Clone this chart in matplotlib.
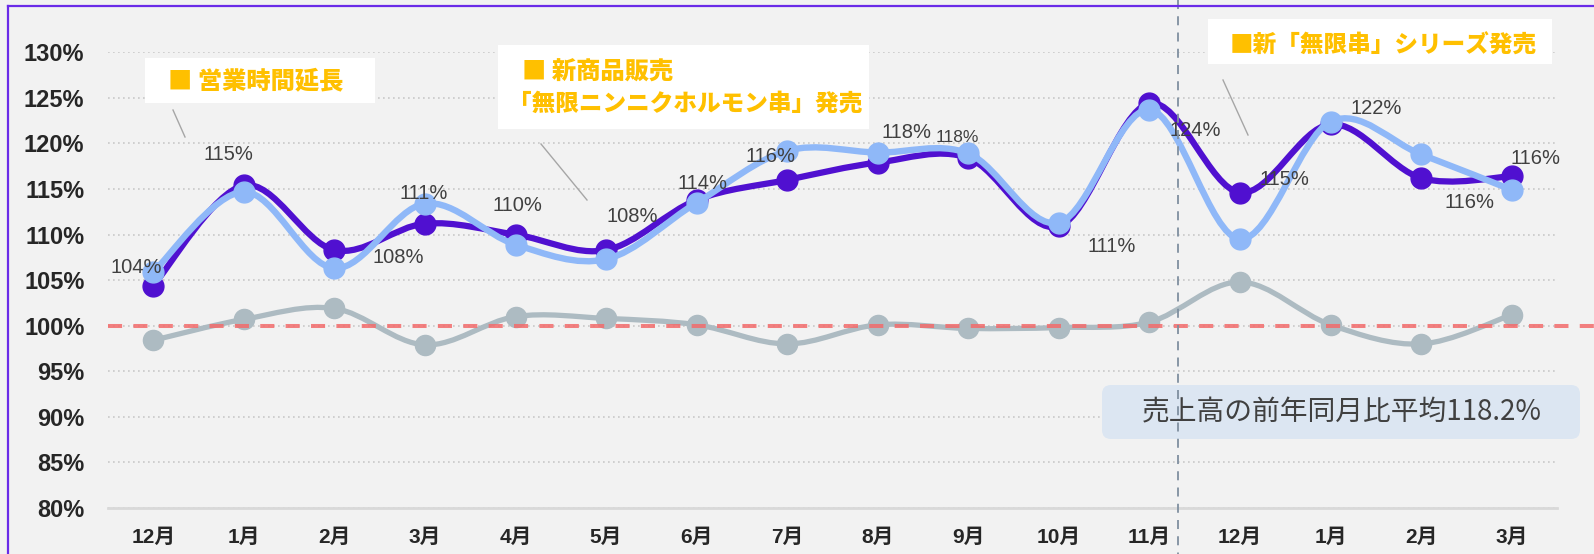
import numpy as np
import matplotlib
matplotlib.use("Agg")
import matplotlib.pyplot as plt
from matplotlib.path import Path
from matplotlib.patches import PathPatch, Rectangle, FancyBboxPatch
from matplotlib.lines import Line2D
from matplotlib.transforms import IdentityTransform

plt.rcParams['font.family'] = ['Liberation Sans', 'Noto Sans CJK JP', 'DejaVu Sans']

# data
months = ["12月", "1月", "2月", "3月", "4月", "5月", "6月", "7月",
          "8月", "9月", "10月", "11月", "12月", "1月", "2月", "3月"]
sales_yoy = [104.4, 115.4, 108.3, 111.2, 110.0, 108.3, 113.8, 116.0,
             117.9, 118.4, 110.9, 124.4, 114.6, 122.1, 116.2, 116.4]
customers_yoy = [105.9, 114.7, 106.3, 113.4, 108.9, 107.3, 113.5, 119.2,
                 119.0, 118.9, 111.3, 123.7, 109.5, 122.4, 118.8, 114.9]
unit_price_yoy = [98.4, 100.7, 101.9, 97.9, 101.0, 100.8, 100.1, 98.0,
                  100.1, 99.7, 99.8, 100.4, 104.8, 100.1, 98.0, 101.2]
baseline = 100
avg_text = "売上高の前年同月比平均118.2%"
events = ["■ 営業時間延長", "■ 新商品販売", "「無限ニンニクホルモン串」発売",
          "■新「無限串」シリーズ発売"]

W, H = 1594, 554
PURPLE = "#5010d0"
LIGHT = "#8fb8f8"
GRAY = "#adbbc2"
GOLD = "#ffc000"

fig = plt.figure(figsize=(W / 100, H / 100), dpi=100, facecolor="#f2f2f2")
ax = fig.add_axes([108 / W, 1 - 508 / H, (1557 - 108) / W, (508 - 52.3) / H])
ax.set_facecolor("#f2f2f2")

x = np.arange(len(months))


def smooth_path(xs, ys):
    pts = np.column_stack([xs, ys]).astype(float)
    n = len(pts)
    verts = [pts[0]]
    codes = [Path.MOVETO]
    for i in range(n - 1):
        p0 = pts[i - 1] if i > 0 else pts[i]
        p1, p2 = pts[i], pts[i + 1]
        p3 = pts[i + 2] if i + 2 < n else pts[i + 1]
        verts += [p1 + (p2 - p0) / 6, p2 - (p3 - p1) / 6, p2]
        codes += [Path.CURVE4] * 3
    return Path(verts, codes)


def draw_series(vals, color, lw, ms, z):
    ax.add_patch(PathPatch(smooth_path(x, vals), fill=False, edgecolor=color,
                           lw=lw, capstyle="round", joinstyle="round", zorder=z))
    ax.plot(x, vals, "o", color=color, ms=ms, ls="none", zorder=z)


draw_series(unit_price_yoy, GRAY, 3.8, 14.5, 3)
ax.axhline(baseline, color="#f26b6b", alpha=0.85, lw=2.9, dashes=(3.5, 2.8),
           zorder=4, clip_on=False, xmax=(W - 108) / (1557 - 108))
draw_series(sales_yoy, PURPLE, 4.5, 15, 5)
draw_series(customers_yoy, LIGHT, 4.6, 15, 6)

# data labels (offsets in points)
label_offsets = [(-12, 13), (-11, 22), (46, -5), (-1, 22), (1.5, 21), (19, 24),
                 (4, 11.5), (-12, 16.5), (21, 21.6), (-8, 15), (38, -14.4),
                 (33, -19.4), (32, 9.4), (33, 11.5), (35, -17.3), (17, 13)]
for i, v in enumerate(sales_yoy):
    dx, dy = label_offsets[i]
    ax.annotate(f"{v:.0f}%", (x[i], v), xytext=(dx, dy), textcoords="offset points",
                ha="center", va="center", fontsize=12.5 if i == 9 else 14.5,
                color="#404040", zorder=8)

ax.set_xlim(-0.5, len(months) - 0.5)
ax.set_ylim(80, 130)
ax.set_yticks(np.arange(80, 131, 5))
ax.set_yticklabels([f"{t}%" for t in range(80, 131, 5)])
ax.set_xticks(x)
ax.set_xticklabels(months)
ax.tick_params(axis="y", length=0, pad=17, labelsize=17, labelcolor="#262626")
ax.tick_params(axis="x", length=0, pad=14, labelsize=15, labelcolor="#262626")
for lab in ax.get_xticklabels() + ax.get_yticklabels():
    lab.set_fontweight("bold")
ax.grid(axis="y", color="#c8c8c8", lw=1.2, linestyle=(0, (1, 2)))
ax.set_axisbelow(True)
for s in ["top", "right", "left"]:
    ax.spines[s].set_visible(False)
ax.spines["bottom"].set_color("#d9d9d9")
ax.spines["bottom"].set_linewidth(2)

# decorations in pixel coords (y from top)
idt = IdentityTransform()


def add_rect(x0, y0, x1, y1, color, z=9):
    fig.add_artist(Rectangle((x0, H - y1), x1 - x0, y1 - y0, transform=idt,
                             facecolor=color, edgecolor="none", zorder=z))


def add_line(x0, y0, x1, y1, **kw):
    fig.add_artist(Line2D([x0, x1], [H - y0, H - y1], transform=idt, **kw))


def add_text(px, py, s, **kw):
    fig.text(px / W, 1 - py / H, s, **kw)


gold = dict(color=GOLD, fontsize=17.5, fontweight="heavy", va="center", ha="left",
            family=["Noto Sans CJK JP"], zorder=10)
add_rect(145, 58, 375, 103, "white")
add_text(168, 81, events[0], **gold)
add_line(173, 110, 185, 137, color="#a6a6a6", lw=1)

add_rect(498, 45, 869, 129, "white")
add_text(522, 72, events[1], **gold)
add_text(508, 103, events[2], **dict(gold, fontsize=17))
add_line(541, 144, 587, 200, color="#a6a6a6", lw=1)

add_rect(1208, 19, 1552, 64, "white")
add_text(1230, 45, events[3], **dict(gold, fontsize=17))
add_line(1223, 80, 1248, 135, color="#a6a6a6", lw=1)

# average box
fig.add_artist(FancyBboxPatch((1102, H - 439), 478, 54, transform=idt,
                              boxstyle="round,pad=0,rounding_size=9",
                              facecolor="#dce6f2", edgecolor="none", zorder=9))
add_text(1342, 412, avg_text, color="#404040", fontsize=20, ha="center",
         va="center", family=["Noto Sans CJK JP"], zorder=10)

# fiscal year separator
add_line(1178, 0, 1178, H, color="#7f8fa0", lw=1.3, dashes=(5, 4), zorder=11)

# purple frame
add_line(8, 6, W, 6, color="#6a2be8", lw=1.6, zorder=12)
add_line(8, 6, 8, H, color="#6a2be8", lw=1.6, zorder=12)

fig.savefig("out.png", dpi=100, facecolor=fig.get_facecolor())
